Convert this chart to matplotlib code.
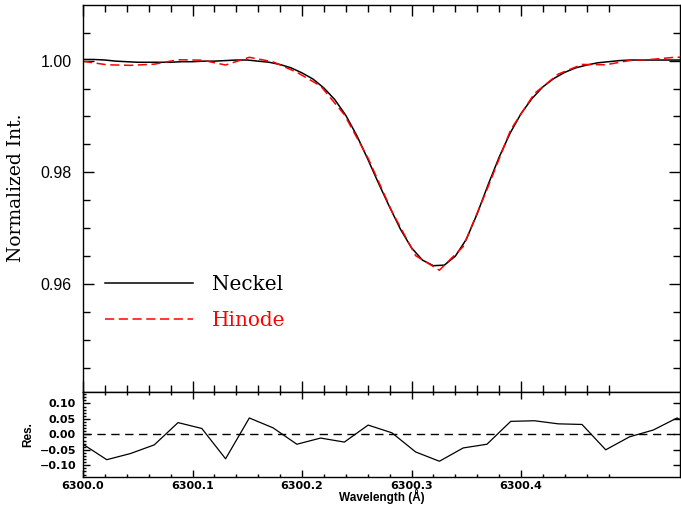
import numpy as np
import matplotlib
matplotlib.use("Agg")
import matplotlib.pyplot as plt
from matplotlib.ticker import MultipleLocator, FixedLocator

# Neckel atlas profile around 6300.3 A (0.01 A steps from 6300.00)
neckel_wl = 6300.0 + np.arange(0, 56) * 0.01
neckel_int = [1.0002, 1.0002, 1.0001, 0.9999, 0.9998, 0.9997, 0.9997, 0.9997,
              0.9997, 0.9998, 0.9998, 0.9999, 0.9999, 1.0000, 1.0001, 1.0001,
              0.9999, 0.9997, 0.9993, 0.9987, 0.9978, 0.9967, 0.9951, 0.9930,
              0.9902, 0.9866, 0.9824, 0.9780, 0.9738, 0.9698, 0.9665, 0.9643,
              0.9633, 0.9634, 0.9650, 0.9680, 0.9726, 0.9778, 0.9827, 0.9870,
              0.9905, 0.9932, 0.9953, 0.9968, 0.9979, 0.9987, 0.9992, 0.9996,
              0.9998, 1.0000, 1.0001, 1.0001, 1.0001, 1.0001, 1.0001, 1.0001]

# Hinode SP average profile (instrument sampling ~21.7 mA)
hinode_wl = 6300.0 + np.arange(0, 27) * 0.0217
hinode_int = [0.99988, 0.99925, 0.99915, 0.99936, 1.00015, 1.00008, 0.99921,
              1.00059, 0.99977, 0.99790, 0.99546, 0.99031, 0.98252, 0.97301,
              0.96509, 0.96249, 0.96672, 0.97691, 0.98763, 0.99412, 0.99758,
              0.99931, 0.99925, 1.00001, 1.00024, 1.00063, 1.00025]

# residuals Hinode - Neckel in percent
residual = [-0.032, -0.082, -0.062, -0.034, 0.038, 0.019, -0.079, 0.053,
            0.021, -0.032, -0.012, -0.025, 0.030, 0.005, -0.057, -0.087,
            -0.044, -0.032, 0.042, 0.044, 0.034, 0.032, -0.050, -0.008,
            0.014, 0.053, 0.015]

x_major = [6300.0, 6300.1, 6300.2, 6300.3, 6300.4]
x_labels = ["6300.0", "6300.1", "6300.2", "6300.3", "6300.4"]
x_minor = 6300.0 + np.arange(0, 25) * 0.02

W, H = 681, 513
fig = plt.figure(figsize=(W / 100, H / 100), dpi=100)
left = 83 / W
width = 597 / W
ax = fig.add_axes([left, 1 - 392 / H, width, (392 - 4.7) / H])
axr = fig.add_axes([left, 1 - 476.7 / H, width, (476.7 - 392) / H])

xmin, xmax = 6300.0, 6300.0 + 597 / 1095

# --- upper panel: profiles ---
ax.plot(neckel_wl, neckel_int, color="black", lw=1.1, label="Neckel")
ax.plot(hinode_wl, hinode_int, color="red", lw=1.1, dashes=(6, 3),
        label="Hinode")
ax.set_xlim(xmin, xmax)
ax.set_ylim(0.9407, 1.0100)
ax.xaxis.set_major_locator(FixedLocator(x_major))
ax.xaxis.set_minor_locator(FixedLocator(x_minor))
ax.set_xticklabels([])
ax.yaxis.set_major_locator(FixedLocator([0.96, 0.98, 1.00]))
ax.yaxis.set_minor_locator(FixedLocator(np.arange(0.945, 1.006, 0.005)))
ax.set_yticklabels(["0.96", "0.98", "1.00"], family="Liberation Sans",
                   fontsize=11.5)
ax.tick_params(which="both", direction="in", top=True, right=True,
               width=1.0, pad=8)
ax.tick_params(which="major", length=8)
ax.tick_params(which="minor", length=5)
ax.set_ylabel("Normalized Int.", family="DejaVu Serif", fontsize=13.5)
ax.yaxis.set_label_coords(-0.097, 0.528)

leg = ax.legend(loc="upper left", bbox_to_anchor=(0.037, 0.302),
                frameon=False, handlelength=4.4, handletextpad=0.95,
                labelspacing=0.85, borderaxespad=0, borderpad=0,
                prop={"family": "DejaVu Serif", "size": 14.4},
                labelcolor="linecolor")

# --- lower panel: residuals ---
axr.plot(hinode_wl, residual, color="black", lw=0.9)
axr.axhline(0.0, color="black", lw=1.0, dashes=(6, 4))
axr.set_xlim(xmin, xmax)
axr.set_ylim(-0.137, 0.137)
axr.xaxis.set_major_locator(FixedLocator(x_major))
axr.xaxis.set_minor_locator(FixedLocator(x_minor))
axr.set_xticklabels(x_labels, family="DejaVu Sans", fontweight="bold",
                    fontsize=8)
axr.yaxis.set_major_locator(MultipleLocator(0.05))
axr.yaxis.set_minor_locator(MultipleLocator(0.01))
axr.set_yticks([-0.10, -0.05, 0.0, 0.05, 0.10])
axr.set_yticklabels(["\u22120.10", "\u22120.05", "0.00", "0.05", "0.10"],
                    family="DejaVu Sans", fontweight="bold", fontsize=8)
axr.tick_params(which="both", direction="in", top=True, right=True,
                width=1.0, pad=5)
axr.tick_params(axis="x", which="both", pad=3)
axr.tick_params(which="major", length=5)
axr.tick_params(which="minor", length=2.5, top=False, right=False)
axr.tick_params(axis="x", which="minor", bottom=True, top=True)
axr.set_xlabel("Wavelength (\u00c5)", family="Liberation Sans",
               fontweight="bold", fontsize=8.5, labelpad=-1)
axr.set_ylabel("Res.", family="Liberation Sans", fontweight="bold",
               fontsize=8.5, labelpad=4)

for a in (ax, axr):
    for s in a.spines.values():
        s.set_linewidth(1.0)

fig.savefig("out.png", dpi=100)
